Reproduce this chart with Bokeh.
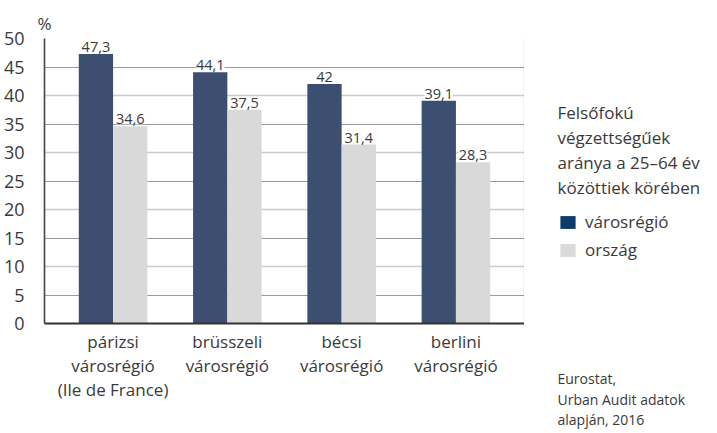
from bokeh.plotting import figure
from bokeh.layouts import row
from bokeh.models import (ColumnDataSource, LabelSet, Label, Legend, LegendItem,
                          FixedTicker, Grid, LinearAxis, Range1d, Title)
from bokeh.core.properties import value
from bokeh.transform import dodge
from bokeh.embed import file_html
from bokeh.resources import INLINE

# ---- data ----
cat_line1 = ["párizsi", "brüsszeli", "bécsi", "berlini"]
cat_line2 = ["városrégió", "városrégió", "városrégió", "városrégió"]
cat_note = ["(Ile de France)", "", "", ""]
region_vals = [47.3, 44.1, 42.0, 39.1]
country_vals = [34.6, 37.5, 31.4, 28.3]
y_ticks = [0, 5, 10, 15, 20, 25, 30, 35, 40, 45, 50]
y_unit = "%"
legend_title = "Felsőfokú\nvégzettségűek\naránya a 25–64 év\nközöttiek körében"
series_names = ["városrégió", "ország"]
source_note = "Eurostat,\nUrban Audit adatok\nalapján, 2016"

FONT = "Open Sans"
TXT = "#3a3a3a"
DARK = "#3d4f71"
LIGHT = "#d9d9d9"
LEG_DARK = "#0c3a6d"
H = 433
FRAME_BOTTOM = 323


def fmt(v):
    s = ("%.1f" % v)
    if s.endswith(".0"):
        s = s[:-2]
    return s.replace(".", ",")


xs = list(range(len(cat_line1)))
src = ColumnDataSource(dict(
    x=xs,
    region=region_vals, country=country_vals,
    region_lbl=[fmt(v) for v in region_vals],
    country_lbl=[fmt(v) for v in country_vals],
))

p = figure(width=524, height=H, x_range=Range1d(-0.6, 3.6), y_range=Range1d(0, 50),
           output_backend="svg", toolbar_location=None,
           min_border_left=44, min_border_right=0, min_border_top=38,
           min_border_bottom=H - FRAME_BOTTOM)
p.outline_line_color = None
p.background_fill_color = "white"

# "%" title
p.title.text = y_unit
p.title.align = "left"
p.title.offset = -7
p.title.text_font = FONT
p.title.text_font_size = "17px"
p.title.text_font_style = "normal"
p.title.text_color = TXT
p.title.standoff = 8

# grids
p.xgrid.visible = False
p.ygrid.ticker = FixedTicker(ticks=[t for t in y_ticks if t % 10 == 0 and t > 0])
p.ygrid.grid_line_color = "#cccccc"
p.ygrid.grid_line_width = 1.6
g2 = Grid(dimension=1, ticker=FixedTicker(ticks=[t for t in y_ticks if t % 10 == 5]),
          grid_line_color="#9a9a9a", grid_line_width=1)
p.add_layout(g2)

# axes
ya = p.yaxis[0]
ya.ticker = FixedTicker(ticks=y_ticks)
ya.major_tick_line_color = None
ya.minor_tick_line_color = None
ya.axis_line_color = "#444444"
ya.axis_line_width = 1.6
ya.major_label_text_font = FONT
ya.major_label_text_font_size = "18px"
ya.major_label_text_color = TXT
ya.major_label_standoff = 14

xa = p.xaxis[0]
xa.ticker = FixedTicker(ticks=xs)
xa.major_label_overrides = {
    i: "\n".join([s for s in (cat_line1[i], cat_line2[i], cat_note[i]) if s]) for i in xs
}
xa.major_tick_line_color = None
xa.minor_tick_line_color = None
xa.major_label_text_font = FONT
xa.major_label_text_font_size = "17px"
xa.major_label_text_color = TXT
xa.major_label_text_line_height = 1.05
xa.major_label_standoff = 0
xa.axis_line_color = "#333333"
xa.axis_line_width = 1.8

ra = LinearAxis(ticker=FixedTicker(ticks=[]), major_tick_line_color=None,
                minor_tick_line_color=None, major_label_text_font_size="0px",
                axis_line_color="#8a8a8a", axis_line_width=1.2)
p.add_layout(ra, "right")

# bars
W = 0.30
p.vbar(x=dodge("x", -W / 2, range=p.x_range), top="region", width=W, source=src,
       fill_color=DARK, line_color=None)
p.vbar(x=dodge("x", W / 2, range=p.x_range), top="country", width=W, source=src,
       fill_color=LIGHT, line_color=None)

# value labels
for col, off in (("region", -W / 2), ("country", W / 2)):
    ls = LabelSet(x=dodge("x", off, range=p.x_range), y=col, text=col + "_lbl", source=src,
                  y_offset=2, text_align="center", text_baseline="bottom",
                  text_font=value(FONT), text_font_size=value("14.5px"), text_color=TXT,
                  background_fill_color="white")
    p.add_layout(ls)

# ---- right panel: legend + notes (its frame is aligned with the main frame) ----
W2 = 188
p2 = figure(width=W2, height=H, x_range=Range1d(0, 1), y_range=Range1d(0, 1),
            output_backend="svg", toolbar_location=None,
            min_border_left=0, min_border_right=0, min_border_top=38,
            min_border_bottom=H - FRAME_BOTTOM)
p2.axis.visible = False
p2.grid.visible = False
p2.outline_line_color = None

p2.add_layout(Label(x=33, y=FRAME_BOTTOM - 100, x_units="screen", y_units="screen",
                    text=legend_title, text_align="left", text_baseline="top",
                    text_font=FONT, text_font_size="17px", text_color=TXT,
                    text_line_height=1.09))

# legend key proxies (zero-size, invisible in the panel; only their styles are used)
key_src = ColumnDataSource(dict(x=[0], top=[0]))
r1 = p2.vbar(x="x", top="top", width=0, source=key_src, fill_color=LEG_DARK, line_color=None)
r2 = p2.vbar(x="x", top="top", width=0, source=key_src, fill_color=LIGHT, line_color=None)
leg = Legend(items=[LegendItem(label=series_names[0], renderers=[r1]),
                    LegendItem(label=series_names[1], renderers=[r2])],
             location=(34, FRAME_BOTTOM - 261), orientation="vertical",
             glyph_width=19, glyph_height=16, label_standoff=8, spacing=5,
             padding=0, margin=0, border_line_color=None, background_fill_alpha=0,
             label_text_font=FONT, label_text_font_size="17px", label_text_color=TXT,
             label_height=20)
p2.add_layout(leg)

# source note in the panel below the (aligned) frame; two leading empty lines
# push it down to the bottom of the page
note = Title(text="\n\n" + source_note, align="left", offset=33, standoff=4,
             text_font=FONT, text_font_size="14px", text_font_style="normal",
             text_color=TXT, text_line_height=1.09)
p2.add_layout(note, "below")

layout = row(p, p2)
open("out.html", "w").write(file_html(layout, INLINE))
